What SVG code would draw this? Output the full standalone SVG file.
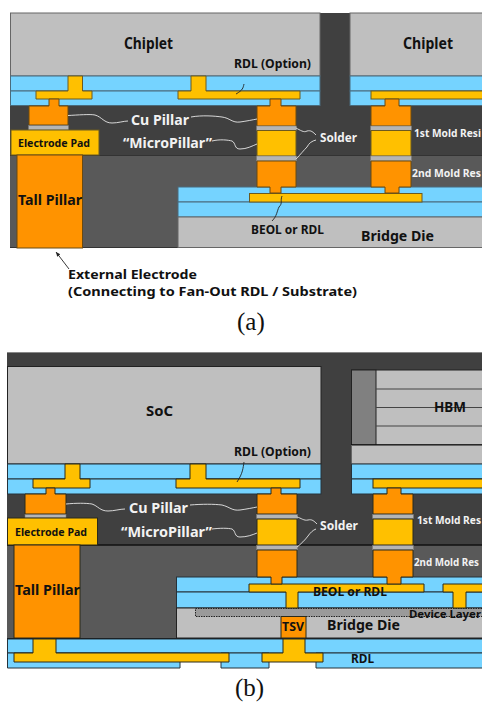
<svg xmlns="http://www.w3.org/2000/svg" width="482" height="702" viewBox="0 0 482 702">
<style>
.m1{fill:#404040}.m2{fill:#595959}
.g{fill:#bfbfbf;stroke:#666;stroke-width:1}
.gd{fill:#bfbfbf;stroke:#222;stroke-width:1}
.b{fill:#75d3ff;stroke:#4a6b7c;stroke-width:1}
.bd{fill:#75d3ff;stroke:#26323a;stroke-width:1}
.y{fill:#ffc000;stroke:#6b5a20;stroke-width:1}
.o{fill:#ff9300;stroke:#6b4a10;stroke-width:1}
#panel-b .y,#panel-b .o{stroke:#2a2a1a}
#panel-b .b{stroke:#26323a}
.s{fill:#b5b5b5;stroke:#777;stroke-width:.5}
.t{font-family:"Noto Sans","DejaVu Sans",sans-serif;font-weight:700;fill:#111}
.w{fill:#f2f2f2}
.c{font-family:"Liberation Serif",serif;fill:#111;font-size:25px}
.lw{fill:none;stroke:#e8e8e8;stroke-width:.9}
.lk{fill:none;stroke:#222;stroke-width:.9}
</style>
<defs>
<marker id="ah" markerWidth="6" markerHeight="6" refX="5" refY="3" orient="auto"><path d="M0 .8L5 3L0 5.2Z" fill="#222"/></marker>
</defs>

<g id="panel-a">
<g id="a-mold">
<rect class="m1" x="10" y="13" width="472" height="142"/>
<rect class="m2" x="10" y="155" width="472" height="93"/>
<path d="M10 155.500H482M10 247.500H178" stroke="#333" fill="none"/>
</g>
<g id="a-chiplet-1"><rect class="g" x="10.500" y="13" width="309.500" height="63"/><text class="t" x="124" y="49" font-size="16" textLength="49" lengthAdjust="spacingAndGlyphs">Chiplet</text></g>
<g id="a-chiplet-2"><rect class="g" x="350" y="13" width="133" height="63"/><text class="t" x="403" y="49" font-size="16" textLength="50" lengthAdjust="spacingAndGlyphs">Chiplet</text></g>
<g id="a-rdl">
<rect class="b" x="10.500" y="76" width="309.500" height="15"/>
<rect class="b" x="10.500" y="91" width="309.500" height="14.500"/>
<rect class="b" x="350" y="76" width="133" height="15"/>
<rect class="b" x="350" y="91" width="133" height="14.500"/>
<path class="y" d="M68 76H82.500V91H92V99H36V91H68Z"/>
<path class="y" d="M191 76H206V91H300V99H178V91H191Z"/>
<rect class="y" x="371" y="91" width="112" height="8"/>
</g>
<g id="a-pillar-left">
<path class="o" d="M49 99H59V106H68V125H29V106H49Z"/>
<rect class="s" x="28.500" y="125.500" width="40" height="4.500"/>
<rect class="y" x="11" y="130" width="88" height="25"/>
<text class="t" x="18" y="147" font-size="10.500" textLength="72" lengthAdjust="spacingAndGlyphs">Electrode Pad</text>
<rect class="o" x="17" y="155" width="65.500" height="93"/>
<text class="t" x="18" y="205" font-size="14" textLength="64" lengthAdjust="spacingAndGlyphs">Tall Pillar</text>
</g>
<g id="a-bridge">
<rect class="b" x="178" y="187" width="305" height="15"/>
<rect class="b" x="178" y="202" width="305" height="15"/>
<rect class="g" x="178" y="217" width="305" height="30.500"/>
<rect class="y" x="249.500" y="193.500" width="172.500" height="8.500"/>
</g>
<g id="a-pillar-mid">
<path class="o" d="M270 99H281V106H296V126H257V106H270Z"/>
<rect class="s" x="256.500" y="126" width="40" height="4.500"/>
<rect class="y" x="257" y="130.500" width="39" height="25.500"/>
<rect class="s" x="256.500" y="156" width="40" height="5"/>
<path class="o" d="M257 161H296V187H281V193H270V187H257Z"/>
</g>
<g id="a-pillar-right">
<path class="o" d="M385 99H399V106H411V126H371V106H385Z"/>
<rect class="s" x="370.500" y="126" width="41" height="4.500"/>
<rect class="y" x="371" y="130.500" width="40" height="25.500"/>
<rect class="s" x="370.500" y="156" width="41" height="5"/>
<path class="o" d="M371 161H411V187H399V193H385V187H371Z"/>
</g>
<g id="a-connectors">
<path class="lw" d="M68 115.500C78 115 90 114 95 115C102 117 104 123 112 123C118 123 124 121 128 121"/>
<path class="lw" d="M191 117C202 115 215 116 222 117C230 118 232 123 240 122C247 121 252 120 257 119"/>
<path class="lw" d="M212 141C220 139 228 140 232 141C236 143 234 149 240 149C247 149 252 146 257 144"/>
<path class="lw" d="M296 128C300 130 304 133 307 131C311 130 313 132 316 135"/>
<path class="lw" d="M296 159C300 155 304 150 307 147C309 143 312 141 316 140"/>
<path class="lk" d="M282 196C280 201 283 203 279 207C277 211 277 216 272 221"/>
<path class="lk" d="M244 84C243 88 243 90 236 94"/>
<path class="lk" d="M69 269L56 252" marker-end="url(#ah)"/>
</g>
<g id="a-labels">
<text class="t" x="234" y="68" font-size="12" textLength="77" lengthAdjust="spacingAndGlyphs">RDL (Option)</text>
<text class="t w" x="131" y="125" font-size="14" textLength="58" lengthAdjust="spacingAndGlyphs">Cu Pillar</text>
<text class="t w" x="123" y="148" font-size="14" textLength="89" lengthAdjust="spacingAndGlyphs">“MicroPillar”</text>
<text class="t w" x="320" y="142" font-size="12" textLength="37" lengthAdjust="spacingAndGlyphs">Solder</text>
<text class="t w" x="414" y="137" font-size="10.500" textLength="67" lengthAdjust="spacingAndGlyphs">1st Mold Resi</text>
<text class="t w" x="412" y="177" font-size="10.500" textLength="69" lengthAdjust="spacingAndGlyphs">2nd Mold Res</text>
<text class="t" x="251" y="234" font-size="11.500" textLength="73" lengthAdjust="spacingAndGlyphs">BEOL or RDL</text>
<text class="t" x="361" y="241" font-size="14" textLength="73" lengthAdjust="spacingAndGlyphs">Bridge Die</text>
<text class="t" x="68" y="279" font-size="12" textLength="129" lengthAdjust="spacingAndGlyphs">External Electrode</text>
<text class="t" x="68" y="296" font-size="12" textLength="289" lengthAdjust="spacingAndGlyphs">(Connecting to Fan-Out RDL / Substrate)</text>
<text class="c" x="237" y="330">(a)</text>
</g>
</g>

<g id="panel-b">
<g id="b-mold">
<rect class="m1" x="7" y="353" width="475" height="192"/>
<rect class="m2" x="7" y="545" width="475" height="93"/>
<path d="M7 352.500H482" stroke="#888" fill="none"/>
<path d="M7 545H482" stroke="#111" stroke-width="1.500" fill="none"/>
</g>
<g id="b-soc"><rect class="gd" x="7.500" y="366.500" width="313.500" height="97.500"/><text class="t" x="146" y="416" font-size="15" textLength="27" lengthAdjust="spacingAndGlyphs">SoC</text></g>
<g id="b-hbm">
<rect class="gd" x="351.500" y="370" width="131" height="75"/>
<rect x="351.500" y="370" width="24.500" height="75" fill="#808080" stroke="#222"/>
<path d="M376 389H482M376 407.500H482M376 426H482" stroke="#444" stroke-width="1.200" fill="none"/>
<path d="M351 445H482" stroke="#111" stroke-width="1.500" fill="none"/>
<rect class="g" x="351.500" y="445.500" width="131" height="18.500"/>
<text class="t" x="434" y="412" font-size="14" textLength="32" lengthAdjust="spacingAndGlyphs">HBM</text>
</g>
<g id="b-rdl">
<rect class="bd" x="7.500" y="464" width="313.500" height="15"/>
<rect class="bd" x="7.500" y="479" width="313.500" height="15"/>
<rect class="bd" x="351.500" y="464" width="131" height="15"/>
<rect class="bd" x="351.500" y="479" width="131" height="15"/>
<path class="y" d="M65 464H80V479H90V488H33V479H65Z"/>
<path class="y" d="M190 464H206V479H300V488H176V479H190Z"/>
<rect class="y" x="373" y="479" width="110" height="9"/>
</g>
<g id="b-pillar-left">
<path class="o" d="M46 488H55V494H66V514H25V494H46Z"/>
<rect class="s" x="25" y="514.500" width="41" height="3.500"/>
<rect class="y" x="7.500" y="518" width="90" height="27"/>
<text class="t" x="15" y="536" font-size="10.500" textLength="72" lengthAdjust="spacingAndGlyphs">Electrode Pad</text>
<rect class="o" x="14" y="545" width="66" height="93"/>
<text class="t" x="15" y="595" font-size="14" textLength="65" lengthAdjust="spacingAndGlyphs">Tall Pillar</text>
</g>
<g id="b-bridge">
<rect class="bd" x="176.500" y="577" width="306" height="15"/>
<rect class="bd" x="176.500" y="592" width="306" height="16"/>
<rect class="gd" x="176.500" y="608" width="306" height="30"/>
<rect x="195.500" y="608.500" width="287" height="8" fill="#9a9a9a" stroke="#222" stroke-dasharray="1.500 1"/>
<path class="y" d="M249 584H424V592H298V608H286V592H249Z"/>
<path class="y" d="M443 584H483V592H466V608H453V592H443Z"/>
<rect class="o" x="281" y="616.500" width="25" height="21.500"/>
<text class="t" x="282" y="631" font-size="11.500" textLength="22" lengthAdjust="spacingAndGlyphs">TSV</text>
</g>
<g id="b-pillar-mid">
<path class="o" d="M271 488H281V494H297V514H257V494H271Z"/>
<rect class="s" x="256.500" y="514.500" width="41" height="4.500"/>
<rect class="y" x="257" y="519" width="40" height="26"/>
<rect class="s" x="256.500" y="545.500" width="41" height="4.500"/>
<path class="o" d="M257 550H297V577H282V584H271V577H257Z"/>
</g>
<g id="b-pillar-right">
<path class="o" d="M387 488H401V494H413V514H373V494H387Z"/>
<rect class="s" x="372.500" y="514.500" width="41" height="4.500"/>
<rect class="y" x="373" y="519" width="40" height="26"/>
<rect class="s" x="372.500" y="545.500" width="41" height="4.500"/>
<path class="o" d="M373 550H413V577H401V584H387V577H373Z"/>
</g>
<g id="b-substrate">
<rect x="7" y="638" width="475" height="2" fill="#111"/>
<rect class="b" x="7.500" y="639" width="475" height="14"/>
<path class="b" d="M7.500 653H180V668H7.500Z"/>
<path class="b" d="M221 653H269V668H221Z"/>
<path class="b" d="M316 653H483V668H316Z"/>
<path class="y" d="M33 639H56V653H229V662H14V653H33Z"/>
<path class="y" d="M283 639H305V653H323V662H262V653H283Z"/>
</g>
<g id="b-connectors">
<path class="lw" d="M66 504C76 503 86 503 92 504C98 506 100 511 108 511C114 511 120 509 125 509"/>
<path class="lw" d="M190 505C202 504 214 504 222 505C230 507 232 511 240 510C247 509 252 508 257 507"/>
<path class="lw" d="M212 529C220 528 228 528 232 529C236 531 234 537 240 537C247 537 252 535 257 533"/>
<path class="lw" d="M297 517C301 518 304 521 308 520C312 519 314 521 317 524"/>
<path class="lw" d="M297 547C301 544 305 540 308 536C310 533 313 530 316 529"/>
<path class="lk" d="M244 462C243 468 243 473 237 482"/>
</g>
<g id="b-labels">
<text class="t" x="234" y="456" font-size="12" textLength="77" lengthAdjust="spacingAndGlyphs">RDL (Option)</text>
<text class="t w" x="129" y="513" font-size="14" textLength="59" lengthAdjust="spacingAndGlyphs">Cu Pillar</text>
<text class="t w" x="121" y="537" font-size="14" textLength="91" lengthAdjust="spacingAndGlyphs">“MicroPillar”</text>
<text class="t w" x="320" y="530" font-size="12" textLength="38" lengthAdjust="spacingAndGlyphs">Solder</text>
<text class="t w" x="417" y="524" font-size="10.500" textLength="64" lengthAdjust="spacingAndGlyphs">1st Mold Res</text>
<text class="t w" x="414" y="566" font-size="10" textLength="65" lengthAdjust="spacingAndGlyphs">2nd Mold Res</text>
<text class="t" x="313" y="596" font-size="11.500" textLength="74" lengthAdjust="spacingAndGlyphs">BEOL or RDL</text>
<text class="t" x="409" y="618" font-size="11" textLength="72" lengthAdjust="spacingAndGlyphs">Device Layer</text>
<text class="t" x="327" y="630" font-size="14" textLength="73" lengthAdjust="spacingAndGlyphs">Bridge Die</text>
<text class="t" x="351" y="663" font-size="11.500" textLength="23" lengthAdjust="spacingAndGlyphs">RDL</text>
<text class="c" x="235" y="696">(b)</text>
</g>
</g>
</svg>
